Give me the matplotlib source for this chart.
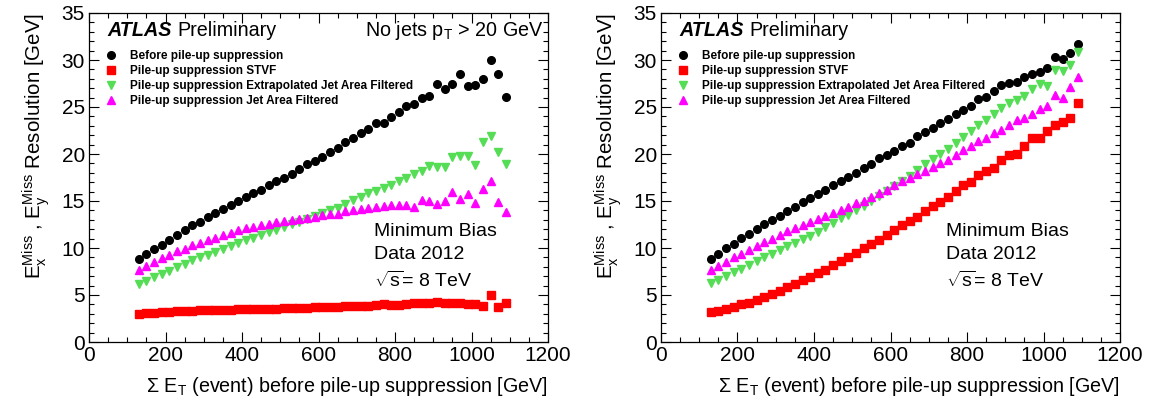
import numpy as np
import matplotlib
matplotlib.use("Agg")
import matplotlib.pyplot as plt
from matplotlib.ticker import MultipleLocator

plt.rcParams['font.family'] = ['Liberation Sans', 'DejaVu Sans']
plt.rcParams['mathtext.fontset'] = 'custom'
plt.rcParams['mathtext.rm'] = 'Liberation Sans'
plt.rcParams['mathtext.it'] = 'Liberation Sans'
plt.rcParams['mathtext.bf'] = 'Liberation Sans:bold'

# sum E_T bin centres [GeV]
sumet = np.arange(130, 1091, 20)

# left panel: events with no jets pT > 20 GeV
left_before = [8.8, 9.35, 9.9, 10.35, 10.9, 11.4, 11.9, 12.4, 12.8, 13.3,
               13.7, 14.2, 14.6, 15.0, 15.4, 15.8, 16.2, 16.7, 17.1, 17.5,
               17.9, 18.45, 18.9, 19.3, 19.7, 20.25, 20.6, 21.25, 21.7, 22.2,
               22.7, 23.3, 23.35, 23.9, 24.5, 25.1, 25.3, 26.0, 26.2, 27.4,
               26.9, 27.4, 28.5, 27.2, 27.3, 28.0, 30.05, 28.55, 26.1]
left_stvf = [3.0, 3.05, 3.12, 3.17, 3.22, 3.27, 3.3, 3.33, 3.36, 3.38,
             3.4, 3.42, 3.44, 3.46, 3.48, 3.5, 3.52, 3.54, 3.56, 3.58,
             3.6, 3.62, 3.65, 3.68, 3.7, 3.73, 3.75, 3.8, 3.82, 3.87,
             3.86, 3.92, 4.0, 3.95, 3.98, 4.05, 4.2, 4.2, 4.1, 4.3,
             4.1, 4.1, 4.2, 4.0, 4.0, 3.8, 5.0, 3.75, 4.1]
left_extrap = [6.2, 6.45, 6.9, 7.2, 7.6, 7.95, 8.3, 8.7, 9.0, 9.3,
               9.6, 9.9, 10.2, 10.5, 10.8, 11.1, 11.4, 11.65, 11.95, 12.25,
               12.55, 12.8, 13.1, 13.4, 13.7, 14.0, 14.3, 14.7, 15.1, 15.4,
               15.8, 16.1, 16.4, 16.7, 17.1, 17.5, 17.9, 18.2, 18.7, 18.6,
               18.6, 19.7, 19.8, 19.8, 18.8, 21.3, 21.9, 20.2, 18.9]
left_jaf = [7.65, 8.05, 8.5, 8.9, 9.25, 9.7, 9.9, 10.3, 10.55, 10.9,
            11.1, 11.4, 11.6, 11.9, 12.1, 12.25, 12.45, 12.6, 12.75, 12.85,
            13.0, 13.1, 13.2, 13.3, 13.5, 13.6, 13.65, 13.9, 14.0, 14.1,
            14.25, 14.4, 14.5, 14.6, 14.6, 14.6, 14.4, 15.1, 15.0, 14.7,
            15.0, 16.0, 15.2, 15.75, 14.8, 16.3, 17.1, 14.9, 13.8]

# right panel: all events
right_before = [8.85, 9.35, 9.95, 10.4, 11.05, 11.5, 12.0, 12.6, 13.0, 13.45,
                13.95, 14.4, 14.85, 15.35, 15.75, 16.2, 16.7, 17.1, 17.55, 18.0,
                18.5, 18.95, 19.55, 19.9, 20.3, 20.85, 21.2, 21.95, 22.35, 22.8,
                23.35, 23.7, 24.3, 24.7, 25.15, 25.9, 26.1, 26.7, 27.3, 27.6,
                27.65, 28.2, 28.55, 28.75, 29.1, 30.35, 30.1, 30.75, 31.65]
right_stvf = [3.15, 3.25, 3.5, 3.75, 4.0, 4.2, 4.5, 4.8, 5.1, 5.45,
              5.8, 6.15, 6.55, 6.9, 7.3, 7.7, 8.2, 8.6, 9.0, 9.5,
              9.95, 10.4, 10.9, 11.35, 11.9, 12.4, 12.85, 13.3, 13.9, 14.45,
              14.9, 15.4, 16.1, 16.7, 17.05, 17.8, 18.15, 18.55, 19.35, 19.9,
              20.0, 20.85, 21.65, 21.7, 22.5, 23.1, 23.4, 23.85, 25.4]
right_extrap = [6.3, 6.6, 7.0, 7.4, 7.8, 8.2, 8.6, 9.0, 9.35, 9.75,
                10.2, 10.5, 10.95, 11.3, 11.75, 12.2, 12.7, 13.15, 13.55, 14.0,
                14.5, 14.95, 15.5, 16.05, 16.6, 17.15, 17.7, 18.3, 18.9, 19.5,
                20.0, 20.55, 21.2, 21.85, 22.4, 23.1, 23.6, 24.3, 24.9, 25.4,
                25.7, 26.2, 26.9, 27.5, 27.2, 28.95, 28.8, 29.5, 30.9]
right_jaf = [7.7, 8.05, 8.5, 9.0, 9.4, 9.8, 10.2, 10.6, 11.0, 11.4,
             11.8, 12.1, 12.5, 12.8, 13.1, 13.4, 13.75, 14.05, 14.35, 14.75,
             15.05, 15.4, 15.8, 16.2, 16.7, 17.1, 17.4, 17.85, 18.2, 18.6,
             19.0, 19.4, 19.85, 20.4, 20.9, 21.4, 21.7, 22.2, 22.6, 23.1,
             23.6, 23.8, 24.3, 24.8, 25.1, 26.3, 26.0, 27.1, 28.2]

labels = ['Before pile-up suppression',
          'Pile-up suppression STVF',
          'Pile-up suppression Extrapolated Jet Area Filtered',
          'Pile-up suppression Jet Area Filtered']
styles = [('o', 'black', 5.5), ('s', '#ff0000', 5.5),
          ('v', '#55dd55', 6), ('^', '#ff00ff', 6)]

fig = plt.figure(figsize=(11.5, 4), dpi=100)
ax_l = fig.add_axes([89/1150, 58/400, 459/1150, 329/400])
ax_r = fig.add_axes([661/1150, 58/400, 459/1150, 329/400])


def draw(ax, series, jet_cut):
    for ys, lab, (m, c, ms) in zip(series, labels, styles):
        ax.plot(sumet, ys, ls='none', marker=m, color=c, ms=ms,
                mec=c, label=lab)
    ax.set_xlim(0, 1200)
    ax.set_ylim(0, 35)
    ax.xaxis.set_major_locator(MultipleLocator(200))
    ax.xaxis.set_minor_locator(MultipleLocator(50))
    ax.yaxis.set_major_locator(MultipleLocator(5))
    ax.yaxis.set_minor_locator(MultipleLocator(1))
    ax.tick_params(which='both', direction='in', top=True, right=True,
                   labelsize=15, width=0.8)
    ax.tick_params(which='major', length=7.5, pad=3)
    ax.tick_params(which='minor', length=3.8)
    for s in ax.spines.values():
        s.set_linewidth(0.9)
    ax.set_xlabel(r'$\Sigma$ E$_\mathrm{T}$ (event) before pile-up suppression [GeV]',
                  fontsize=14.2, loc='right', labelpad=7)
    ax.set_ylabel(r'E$_\mathrm{x}^\mathrm{Miss}$ , E$_\mathrm{y}^\mathrm{Miss}$ Resolution [GeV]',
                  fontsize=14.8, loc='top', labelpad=7)
    ax.text(0.04, 0.948, 'ATLAS', transform=ax.transAxes, fontsize=14.2,
            fontweight='bold', fontstyle='italic', va='center')
    ax.text(0.193, 0.948, 'Preliminary', transform=ax.transAxes,
            fontsize=14.2, va='center')
    if jet_cut:
        ax.text(0.99, 0.948, r'No jets p$_\mathrm{T}$ > 20 GeV',
                transform=ax.transAxes, fontsize=14.2, va='center', ha='right')
    ax.text(0.62, 0.362, 'Minimum Bias\nData 2012\n' + r'$\sqrt{\mathrm{s}}$= 8 TeV',
            transform=ax.transAxes, fontsize=14, va='top', linespacing=1.47)
    ax.legend(loc='upper left', bbox_to_anchor=(0.015, 0.912), frameon=False,
              prop={'weight': 'bold', 'size': 8.5}, handlelength=1.2,
              handletextpad=1.0, labelspacing=0.25, borderpad=0.2)


draw(ax_l, [left_before, left_stvf, left_extrap, left_jaf], True)
draw(ax_r, [right_before, right_stvf, right_extrap, right_jaf], False)

fig.savefig('out.png', dpi=100)
